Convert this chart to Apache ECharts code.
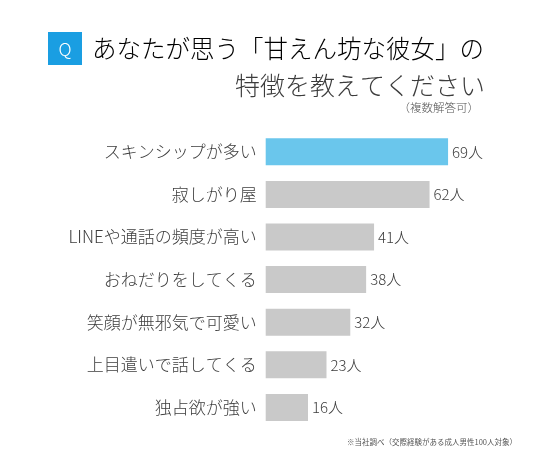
<!DOCTYPE html>
<html>
<head>
<meta charset="utf-8">
<script src="https://cdn.jsdelivr.net/npm/echarts@6/dist/echarts.min.js"></script>
<style>
html,body{margin:0;padding:0;background:#fff;}
#c{width:536px;height:459px;}
</style>
</head>
<body>
<div id="c"></div>
<script>
const categories = ['スキンシップが多い','寂しがり屋','LINEや通話の頻度が高い','おねだりをしてくる','笑顔が無邪気で可愛い','上目遣いで話してくる','独占欲が強い'];
const values = [69, 62, 41, 38, 32, 23, 16];
const unit = '人';
const highlightIndex = 0;

const FONT = '"Noto Sans CJK JP", "Noto Sans", sans-serif';
const chart = echarts.init(document.getElementById('c'), null, {renderer: 'canvas'});
chart.setOption({
  backgroundColor: '#ffffff',
  animation: false,
  grid: {left: 265.7, right: 6, top: 130.5, bottom: 30.3, containLabel: false},
  xAxis: {type: 'value', min: 0, max: 100, show: false},
  yAxis: {
    type: 'category', data: categories, inverse: true,
    axisLine: {show: false}, axisTick: {show: false}, splitLine: {show: false},
    axisLabel: {fontFamily: FONT, fontSize: 17, fontWeight: 300, color: '#3c3c3c', margin: 9}
  },
  series: [{
    type: 'bar',
    data: values.map((v, i) => ({value: v, itemStyle: {color: i === highlightIndex ? '#6ac6ec' : '#c9c9c9'}})),
    barWidth: 27,
    label: {
      show: true, position: 'right', distance: 4,
      formatter: p => p.value + unit,
      fontFamily: FONT, fontSize: 15, fontWeight: 300, color: '#3c3c3c'
    }
  }],
  graphic: [
    {type: 'rect', shape: {x: 48, y: 32, width: 34, height: 33}, style: {fill: '#1a9ee2'}},
    {type: 'text', x: 65, y: 49, style: {text: 'Q', fill: '#fff', font: '300 18px ' + FONT, align: 'center', verticalAlign: 'middle'}},
    {type: 'text', x: 92, y: 49, style: {
      text: '{a|あなたが思う「}{b|甘えん坊な彼女}{a|」の}',
      verticalAlign: 'middle', align: 'left',
      rich: {
        a: {fontFamily: FONT, fontSize: 24.5, fontWeight: 300, color: '#3c3c3c'},
        b: {fontFamily: FONT, fontSize: 24.5, fontWeight: 300, color: '#22a3e3'}
      }
    }},
    {type: 'text', x: 485, y: 85, style: {text: '特徴を教えてください', fill: '#3c3c3c', font: '300 25px ' + FONT, align: 'right', verticalAlign: 'middle'}},
    {type: 'text', x: 479, y: 108, style: {text: '（複数解答可）', fill: '#555', font: '300 11.5px ' + FONT, align: 'right', verticalAlign: 'middle'}},
    {type: 'text', x: 517, y: 442, style: {text: '※当社調べ（交際経験がある成人男性100人対象）', fill: '#555', font: '7.5px ' + FONT, align: 'right', verticalAlign: 'middle'}}
  ]
});
</script>
</body>
</html>
